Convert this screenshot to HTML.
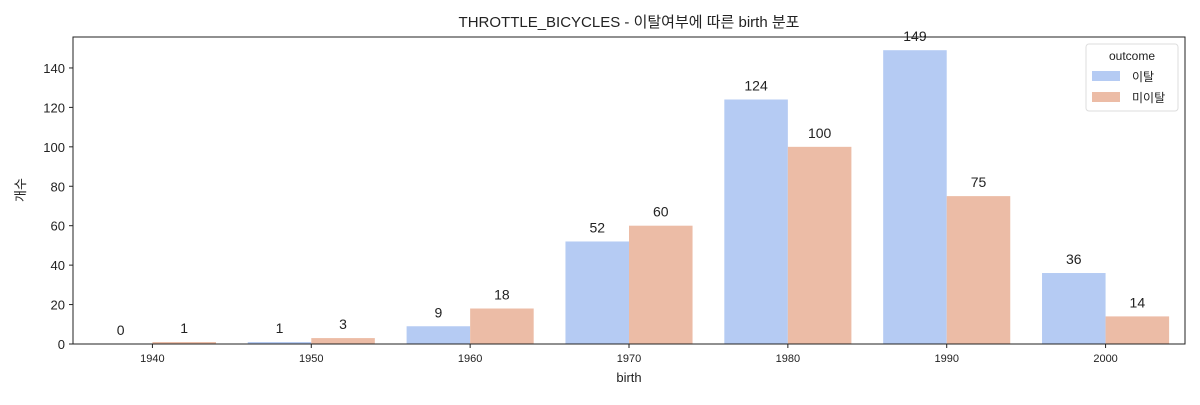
<!DOCTYPE html>
<html><head><meta charset="utf-8"><style>
body{margin:0;background:#fff;font-family:"Liberation Sans","Noto Sans CJK KR",sans-serif}
text{font-family:"Liberation Sans","Noto Sans CJK KR",sans-serif;fill:#222}
</style></head><body>
<svg id="c" width="1200" height="400">
<text x="629" y="27" text-anchor="middle" font-size="15">THROTTLE_BICYCLES - 이탈여부에 따른 birth 분포</text>
<g id="marks"></g>
<rect x="73" y="37" width="1112" height="307" fill="none" stroke="#222" stroke-width="1"/>
<text x="629" y="382" text-anchor="middle" font-size="13">birth</text>
<text transform="translate(25,190) rotate(-90)" text-anchor="middle" font-size="13">개수</text>
<g>
<rect x="1086" y="44" width="92" height="67" rx="3" fill="#fff" stroke="#ddd"/>
<text x="1132" y="60" text-anchor="middle" font-size="12">outcome</text>
<rect x="1092" y="71" width="28" height="10" fill="#b5cbf3"/>
<text x="1132" y="81" font-size="12">이탈</text>
<rect x="1092" y="92" width="28" height="10" fill="#ecbca6"/>
<text x="1132" y="102" font-size="12">미이탈</text>
</g>
</svg>
<script>
const categories=["1940","1950","1960","1970","1980","1990","2000"];
const churn=[0,1,9,52,124,149,36];
const retain=[1,3,18,60,100,75,14];
const yTicks=[0,20,40,60,80,100,120,140];
const L=73,R=1185,T=37,B=344,yMax=155.7;
const ns="http://www.w3.org/2000/svg";
const g=document.getElementById('marks');
const bw=(R-L)/categories.length;
const x=i=>L+bw*(i+0.5);
const y=v=>B-(v/yMax)*(B-T);
function mk(t,a,txt){const e=document.createElementNS(ns,t);for(const k in a)e.setAttribute(k,a[k]);if(txt!==undefined)e.textContent=txt;g.appendChild(e);return e;}
yTicks.forEach(v=>{
 const l=mk('line',{x1:L-4,x2:L,y1:y(v),y2:y(v),stroke:'#222'});
 
 
 const t=mk('text',{x:L-8,y:y(v)+5,'text-anchor':'end','font-size':13},String(v));
 
 
});
const half=bw*0.4;
categories.forEach((c,i)=>{
 const l=mk('line',{x1:x(i),x2:x(i),y1:B,y2:B+4,stroke:'#222'});
 
 
 const t=mk('text',{x:x(i),y:B+18,'text-anchor':'middle','font-size':11},c);
 
 
 [[churn,'#b5cbf3',-half,'churn'],[retain,'#ecbca6',0,'retain']].forEach(([arr,col,off,nm])=>{
  const v=arr[i];
  const r=mk('rect',{x:x(i)+off,y:y(v),width:half,height:B-y(v),fill:col});
  
  
  const lb=mk('text',{x:x(i)+off+half/2,y:y(v)-9,'text-anchor':'middle','font-size':14},String(v));
  
  
 });
});
</script>
</body></html>
